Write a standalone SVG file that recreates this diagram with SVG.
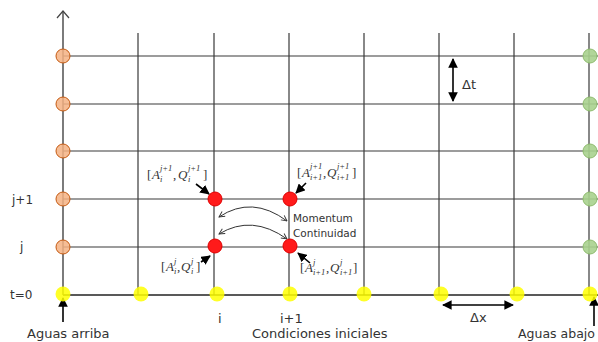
<svg xmlns="http://www.w3.org/2000/svg" width="598" height="342" viewBox="0 0 598 342">
<defs>
<style>
.grid{stroke:#3a3a3a;stroke-width:1.2;fill:none}
.axis{stroke:#222;stroke-width:1.6;fill:none}
.lbl{font-family:"DejaVu Sans",Verdana,sans-serif;font-size:12px;fill:#333}
.big{font-size:13px}
.sm{font-size:10.5px}
.m{font-family:"Liberation Serif",serif;font-size:13px;fill:#333}
.mi{font-family:"Liberation Serif",serif;font-size:13px;font-style:italic;fill:#333}
.s{font-family:"Liberation Serif",serif;font-size:8.5px;font-style:italic;fill:#333}
.or{fill:#f4b183;fill-opacity:0.85;stroke:#c55a11;stroke-width:1}
.gr{fill:#a9d18e;fill-opacity:0.9;stroke:#8fbc6e;stroke-width:1}
.ye{fill:#ffff00;fill-opacity:0.85}
.rd{fill:#ff1a1a;stroke:#e00000;stroke-width:1}
.arr{stroke:#000;stroke-width:1.6;fill:none}
.curve{stroke:#333;stroke-width:1;fill:none}
</style>
<marker id="fh" viewBox="0 0 10 10" refX="9" refY="5" markerWidth="6" markerHeight="6" orient="auto-start-reverse"><path d="M0,0 L10,5 L0,10 z" fill="#000"/></marker>
<marker id="oh" viewBox="0 0 10 10" refX="9" refY="5" markerWidth="7" markerHeight="7" orient="auto-start-reverse"><path d="M1,1 L9,5 L1,9" fill="none" stroke="#333" stroke-width="1.3"/></marker>
</defs>
<rect width="598" height="342" fill="#fff"/>
<g id="grid">
<path class="grid" d="M63,56H598M63,104H598M63,151H598M63,199H598M63,247H598"/>
<path class="grid" d="M138,33V295M214,33V295M289,33V295M364,33V295M439,33V295M514,33V295M589,33V295"/>
<path class="axis" d="M63,295H598"/>
<path d="M63,295V11" stroke="#444" stroke-width="1.4" fill="none"/>
<path d="M57,18 L63,11 L69,18" fill="none" stroke="#444" stroke-width="1.2"/>
</g>
<g id="connectors">
<path class="curve" d="M219,217 Q252,195 287,221" marker-start="url(#oh)" marker-end="url(#oh)"/>
<path class="curve" d="M219,234 Q252,214 287,239" marker-start="url(#oh)" marker-end="url(#oh)"/>
<path class="arr" d="M196,184 L209,194" marker-end="url(#fh)"/>
<path class="arr" d="M306,183 L296,193" marker-end="url(#fh)"/>
<path class="arr" d="M201,262 L210,256" marker-end="url(#fh)"/>
<path class="arr" d="M310,263 L298,253" marker-end="url(#fh)"/>
<path class="arr" d="M453,59 L453,101" marker-start="url(#fh)" marker-end="url(#fh)" stroke-width="1.3"/>
<path class="arr" d="M443,305 L513,305" marker-start="url(#fh)" marker-end="url(#fh)" stroke-width="1.3"/>
<path class="arr" d="M63,322 L63,298" marker-end="url(#fh)" stroke-width="1.3"/>
<path class="arr" d="M594,326 L594,297" marker-end="url(#fh)" stroke-width="1.3"/>
</g>
<g id="upstream">
<circle class="or" cx="63" cy="56" r="7"/>
<circle class="or" cx="63" cy="104" r="7"/>
<circle class="or" cx="63" cy="151" r="7"/>
<circle class="or" cx="63" cy="199" r="7"/>
<circle class="or" cx="63" cy="247" r="7"/>
</g>
<g id="downstream">
<circle class="gr" cx="590" cy="56" r="7"/>
<circle class="gr" cx="590" cy="104" r="7"/>
<circle class="gr" cx="590" cy="151" r="7"/>
<circle class="gr" cx="590" cy="199" r="7"/>
<circle class="gr" cx="590" cy="247" r="7"/>
</g>
<g id="initial">
<circle class="ye" cx="63" cy="294" r="7.5"/>
<circle class="ye" cx="141" cy="294" r="7.5"/>
<circle class="ye" cx="217" cy="294" r="7.5"/>
<circle class="ye" cx="290" cy="294" r="7.5"/>
<circle class="ye" cx="364" cy="294" r="7.5"/>
<circle class="ye" cx="441" cy="294" r="7.5"/>
<circle class="ye" cx="517" cy="294" r="7.5"/>
<circle class="ye" cx="590" cy="294" r="7.5"/>
</g>
<g id="nodes-red">
<circle class="rd" cx="215" cy="199" r="7"/>
<circle class="rd" cx="290" cy="199" r="7"/>
<circle class="rd" cx="215" cy="246" r="7"/>
<circle class="rd" cx="290" cy="246" r="7"/>
</g>
<g id="label-tl">
<text class="m" x="147" y="179">[</text>
<text class="mi" x="152" y="179">A</text>
<text class="s" x="160" y="171">j+1</text>
<text class="s" x="160" y="182">i</text>
<text class="m" x="173" y="179">,</text>
<text class="mi" x="178" y="179">Q</text>
<text class="s" x="188" y="171">j+1</text>
<text class="s" x="188" y="182">i</text>
<text class="m" x="203" y="179">]</text>
</g>
<g id="label-tr">
<text class="m" x="297" y="177">[</text>
<text class="mi" x="302" y="177">A</text>
<text class="s" x="310" y="169">j+1</text>
<text class="s" x="310" y="180">i+1</text>
<text class="m" x="323" y="177">,</text>
<text class="mi" x="327" y="177">Q</text>
<text class="s" x="337" y="169">j+1</text>
<text class="s" x="337" y="180">i+1</text>
<text class="m" x="352" y="177">]</text>
</g>
<g id="label-bl">
<text class="m" x="161" y="271">[</text>
<text class="mi" x="166" y="271">A</text>
<text class="s" x="174" y="264">j</text>
<text class="s" x="174" y="274">i</text>
<text class="m" x="177" y="271">,</text>
<text class="mi" x="181" y="271">Q</text>
<text class="s" x="191" y="264">j</text>
<text class="s" x="191" y="274">i</text>
<text class="m" x="196" y="271">]</text>
</g>
<g id="label-br">
<text class="m" x="300" y="272">[</text>
<text class="mi" x="305" y="272">A</text>
<text class="s" x="313" y="265">j</text>
<text class="s" x="313" y="275">i+1</text>
<text class="m" x="326" y="272">,</text>
<text class="mi" x="330" y="272">Q</text>
<text class="s" x="340" y="265">j</text>
<text class="s" x="340" y="275">i+1</text>
<text class="m" x="353" y="272">]</text>
</g>
<g id="texts">
<text class="lbl sm" x="293" y="222">Momentum</text>
<text class="lbl sm" x="293" y="237">Continuidad</text>
<text class="lbl" x="12" y="204">j+1</text>
<text class="lbl" x="20" y="251">j</text>
<text class="lbl" x="10" y="299">t=0</text>
<text class="lbl big" x="27" y="338">Aguas arriba</text>
<text class="lbl big" x="218" y="323">i</text>
<text class="lbl big" x="280" y="323">i+1</text>
<text class="lbl big" x="252" y="338">Condiciones iniciales</text>
<text class="lbl big" x="470" y="322">Δx</text>
<text class="lbl" x="518" y="338" style="font-size:12.5px">Aguas abajo</text>
<text class="lbl big" x="462" y="89">Δt</text>
</g>
</svg>
